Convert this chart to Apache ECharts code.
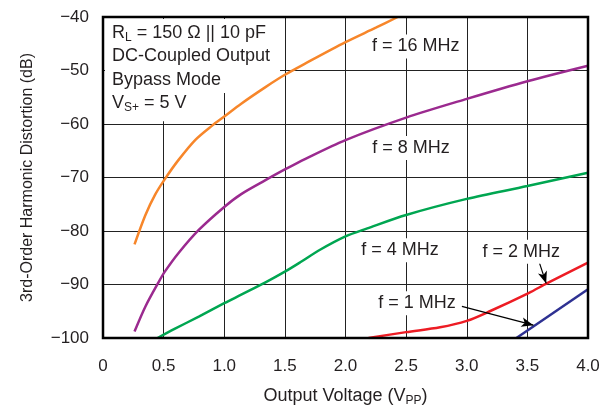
<!DOCTYPE html>
<html>
<head>
<meta charset="utf-8">
<script src="https://cdn.jsdelivr.net/npm/echarts@6/dist/echarts.min.js"></script>
<style>
html, body { margin: 0; padding: 0; background: #fff; }
#chart { width: 603px; height: 412px; }
</style>
</head>
<body>
<div id="chart"></div>
<script>
const xTicks = [0, 0.5, 1.0, 1.5, 2.0, 2.5, 3.0, 3.5, 4.0]
const yTicks = [-100, -90, -80, -70, -60, -50, -40]

// [output voltage (Vpp), distortion (dB)]
const f16MHz = [[0.26, -82.5], [0.35, -77], [0.43, -73.2], [0.51, -70.3], [0.62, -66.8], [0.76, -63], [0.9, -60.3], [1.0, -58.6], [1.14, -56.2], [1.34, -53.1], [1.5, -50.8], [1.66, -48.8], [2.0, -44.7], [2.25, -42], [2.43, -40]]
const f8MHz = [[0.26, -98.8], [0.35, -94.1], [0.46, -89.5], [0.51, -87.6], [0.62, -84.2], [0.79, -79.8], [1.0, -75.5], [1.14, -73.1], [1.34, -70.5], [1.5, -68.5], [1.67, -66.5], [2.0, -63], [2.5, -58.8], [3.0, -55.3], [3.5, -52], [4.0, -49.1]]
const f4MHz = [[0.45, -100], [0.59, -98.3], [0.79, -96], [1.0, -93.5], [1.14, -91.9], [1.34, -89.6], [1.5, -87.6], [1.63, -85.8], [1.79, -83.5], [2.0, -81], [2.18, -79.5], [2.5, -77], [3.0, -74], [3.5, -71.6], [4.0, -69.1]]
const f2MHz = [[2.19, -100], [2.5, -98.9], [2.78, -98], [3.0, -96.8], [3.19, -95], [3.51, -91.6], [3.66, -89.8], [4.0, -85.9]]
const f1MHz = [[3.41, -100], [4.0, -90.9]]

const seriesNames = ['f = 16 MHz', 'f = 8 MHz', 'f = 4 MHz', 'f = 2 MHz', 'f = 1 MHz']
const seriesColors = ['#f7862a', '#9b2a8f', '#00a651', '#ed1c24', '#2e3192']
const seriesData = [f16MHz, f8MHz, f4MHz, f2MHz, f1MHz]

// label anchors in data space
const labelPos = [[2.58, -45.5], [2.54, -64.5], [2.45, -83.6], [3.45, -83.9], [2.59, -93.5]]
const arrows = [
    [[3.59, -85.3], [3.655, -89.8]],
    [[2.96, -94.1], [3.55, -97.6]]
]

const font = '"Liberation Sans", Arial, Helvetica, sans-serif'
const textColor = '#231f20'

const chart = echarts.init(document.getElementById('chart'))

const series = seriesData.map((d, i) => ({
    name: seriesNames[i],
    type: 'line',
    data: d,
    smooth: 0.3,
    showSymbol: false,
    z: 3,
    lineStyle: { color: seriesColors[i], width: 2.5 }
}))

series.push({
    type: 'line',
    data: [],
    markLine: {
        silent: true,
        symbol: ['none', 'arrow'],
        symbolSize: [7, 12],
        label: { show: false },
        lineStyle: { color: '#000', width: 1.2, type: 'solid' },
        data: arrows.map(a => [{ coord: a[0] }, { coord: a[1] }])
    }
})

const option = {
    animation: false,
    textStyle: { fontFamily: font },
    grid: {
        left: 103,
        right: 15,
        top: 17,
        bottom: 66,
        show: true,
        borderColor: '#000',
        borderWidth: 2.5,
        z: 4
    },
    xAxis: {
        type: 'value',
        min: 0,
        max: 4,
        interval: 0.5,
        name: 'Output Voltage (V{sub|PP})',
        nameLocation: 'middle',
        nameGap: 47,
        nameTextStyle: {
            color: textColor,
            fontSize: 18,
            fontFamily: font,
            rich: { sub: { fontSize: 12, padding: [10, 0, 0, 0], color: textColor, fontFamily: font } }
        },
        axisLine: { show: false },
        axisTick: { show: false },
        axisLabel: {
            color: textColor,
            fontSize: 17,
            margin: 20,
            formatter: v => {
                const t = xTicks.find(x => Math.abs(x - v) < 1e-6)
                return t === 0 ? '0' : t.toFixed(1)
            }
        },
        splitLine: { lineStyle: { color: '#222', width: 1 } }
    },
    yAxis: {
        type: 'value',
        min: -100,
        max: -40,
        interval: 10,
        name: '3rd-Order Harmonic Distortion (dB)',
        nameLocation: 'middle',
        nameGap: 67,
        nameTextStyle: { color: textColor, fontSize: 16, fontFamily: font },
        axisLine: { show: false },
        axisTick: { show: false },
        axisLabel: {
            color: textColor,
            fontSize: 17,
            margin: 14,
            formatter: v => {
                const t = yTicks.find(y => Math.abs(y - v) < 1e-6)
                return '\u2212' + Math.abs(t)
            }
        },
        splitLine: { lineStyle: { color: '#222', width: 1 } }
    },
    series: series
}

chart.setOption(option)

// annotations placed through the chart's own scales
const toPx = p => chart.convertToPixel({ gridIndex: 0 }, p)
const graphics = []

seriesNames.forEach((n, i) => {
    const p = toPx(labelPos[i])
    graphics.push({
        type: 'text',
        x: p[0],
        y: p[1],
        z: 10,
        style: {
            text: n,
            fontFamily: font,
            fontSize: 18,
            fill: textColor,
            align: 'center',
            verticalAlign: 'middle',
            backgroundColor: '#fff',
            padding: [3, 3, 3, 3]
        }
    })
})

const boxTL = toPx([0, -40])
const boxBR = toPx([1.46, -54.2])
graphics.push({
    type: 'rect',
    z: 1,
    shape: { x: boxTL[0] + 2, y: boxTL[1] + 2, width: boxBR[0] - boxTL[0] - 2, height: boxBR[1] - boxTL[1] - 2 },
    style: { fill: '#fff' }
})
const box2BR = toPx([0.98, -59.5])
graphics.push({
    type: 'rect',
    z: 1,
    shape: { x: boxTL[0] + 2, y: boxBR[1], width: box2BR[0] - boxTL[0] - 2, height: box2BR[1] - boxBR[1] },
    style: { fill: '#fff' }
})
graphics.push({
    type: 'text',
    x: boxTL[0] + 9,
    y: boxTL[1] + 4,
    z: 11,
    style: {
        text: 'R{sub|L} = 150 \u03a9 || 10 pF\nDC-Coupled Output\nBypass Mode\nV{sub|S+} = 5 V',
        fontFamily: font,
        fontSize: 18,
        lineHeight: 23.5,
        fill: textColor,
        rich: {
            sub: { fontSize: 12, padding: [9, 0, 0, 0], fill: textColor, fontFamily: font, lineHeight: 23.5 }
        }
    }
})

chart.setOption({ graphic: graphics })
</script>
</body>
</html>
